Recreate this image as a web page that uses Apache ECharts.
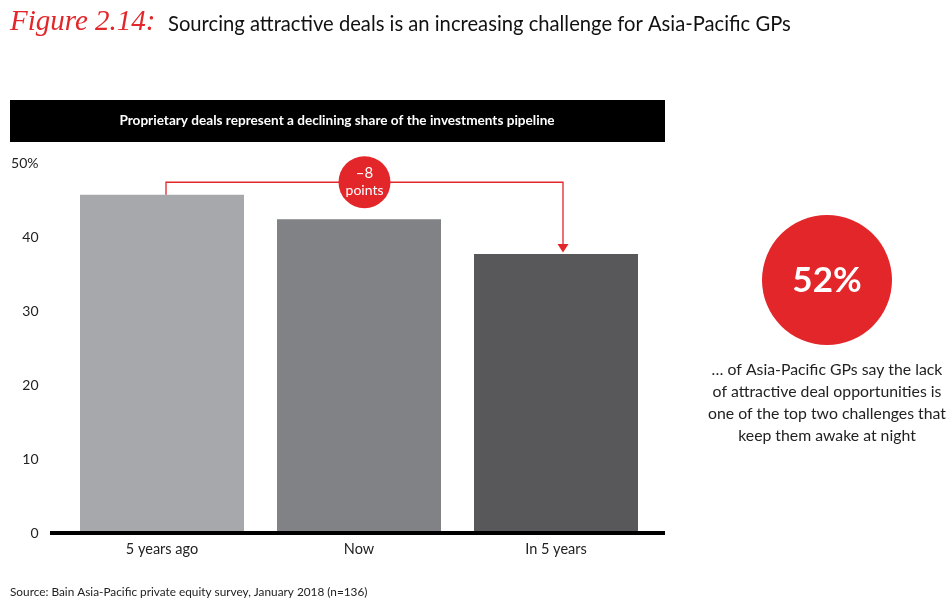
<!DOCTYPE html>
<html><head><meta charset="utf-8">
<script src="https://cdn.jsdelivr.net/npm/echarts@6/dist/echarts.min.js"></script>
<style>html,body{margin:0;padding:0;background:#fff}#c{width:950px;height:609px}</style>
</head><body><div id="c"></div>
<script>
const categories = ['5 years ago', 'Now', 'In 5 years'];
const values = [45.7, 42.4, 37.7];
const barColors = ['#A7A8AB', '#818285', '#58585A'];
const yTicks = [0, 10, 20, 30, 40, 50];
const changeLabel = ['–8', 'points'];
const bigStat = '52%';
const statText = '… of Asia-Pacific GPs say the lack\nof attractive deal opportunities is\none of the top two challenges that\nkeep them awake at night';
const titleLead = 'Figure 2.14:';
const titleText = 'Sourcing attractive deals is an increasing challenge for Asia-Pacific GPs';
const panelTitle = 'Proprietary deals represent a declining share of the investments pipeline';
const sourceText = 'Source: Bain Asia-Pacific private equity survey, January 2018 (n=136)';

const FONT = 'Lato, "Open Sans", sans-serif';
const RED = '#E3262A';
const chart = echarts.init(document.getElementById('c'), null, {renderer: 'canvas'});

const option = {
  animation: false,
  grid: {left: 63.5, right: 295.5, top: 163, bottom: 76, containLabel: false},
  xAxis: {
    type: 'category', data: categories,
    axisLine: {show: false}, axisTick: {show: false},
    axisLabel: {color: '#222', fontSize: 14.5, fontFamily: FONT, margin: 9}
  },
  yAxis: {
    type: 'value', min: yTicks[0], max: yTicks[yTicks.length - 1], interval: 10,
    splitLine: {show: false}, axisLine: {show: false}, axisTick: {show: false},
    axisLabel: {color: '#222', fontSize: 14, fontFamily: FONT, margin: 25,
      formatter: v => v === 50 ? v + '%' : String(v)}
  },
  series: [{
    type: 'bar', barWidth: 164,
    data: values.map((v, i) => ({value: v, itemStyle: {color: barColors[i]}})),
    z: 2
  }]
};
chart.setOption(option);

const p0 = chart.convertToPixel({gridIndex: 0}, [0, values[0]]);
const p2 = chart.convertToPixel({gridIndex: 0}, [2, values[2]]);
const base = chart.convertToPixel({gridIndex: 0}, [0, 0]);
const yBr = chart.convertToPixel({gridIndex: 0}, [0, 47.4])[1];
const xL = p0[0] + 4, xR = p2[0] + 7;
const xM = (xL + xR) / 2;

chart.setOption({
  graphic: [
    {type: 'text', left: 10, top: 8, style: {text: titleLead, fill: RED, font: 'italic 29px "Liberation Serif", serif'}},
    {type: 'text', left: 168, top: 14, style: {text: titleText, fill: '#111', font: '20.2px ' + FONT}},
    {type: 'rect', shape: {x: 10, y: 100, width: 655, height: 42}, style: {fill: '#000'}},
    {type: 'text', x: 337, y: 121, style: {text: panelTitle, fill: '#fff', font: 'bold 13.6px ' + FONT, textAlign: 'center', textVerticalAlign: 'middle'}},
    {type: 'rect', shape: {x: 50, y: base[1] - 2, width: 615, height: 4}, style: {fill: '#000'}, z: 5},
    {type: 'polyline', shape: {points: [[xL, p0[1]], [xL, yBr], [xR, yBr], [xR, p2[1] - 8]]}, style: {stroke: RED, lineWidth: 1.3, fill: null}, z: 6},
    {type: 'polygon', shape: {points: [[xR - 5.5, p2[1] - 10], [xR + 5.5, p2[1] - 10], [xR, p2[1] - 1.5]]}, style: {fill: RED}, z: 6},
    {type: 'circle', shape: {cx: xM, cy: yBr, r: 26}, style: {fill: RED}, z: 7},
    {type: 'text', x: xM, y: yBr - 9, style: {text: changeLabel[0], fill: '#fff', font: '15px ' + FONT, textAlign: 'center', textVerticalAlign: 'middle'}, z: 8},
    {type: 'text', x: xM, y: yBr + 8, style: {text: changeLabel[1], fill: '#fff', font: '14px ' + FONT, textAlign: 'center', textVerticalAlign: 'middle'}, z: 8},
    {type: 'circle', shape: {cx: 827, cy: 280, r: 65}, style: {fill: RED}},
    {type: 'text', x: 827, y: 281, style: {text: bigStat, fill: '#fff', font: 'bold 35px ' + FONT, textAlign: 'center', textVerticalAlign: 'middle'}},
    {type: 'text', x: 827, y: 359, style: {text: statText, fill: '#222', font: '15.8px ' + FONT, textAlign: 'center', lineHeight: 22}},
    {type: 'text', left: 10, top: 586, style: {text: sourceText, fill: '#222', font: '11.8px ' + FONT}}
  ]
});
</script></body></html>
